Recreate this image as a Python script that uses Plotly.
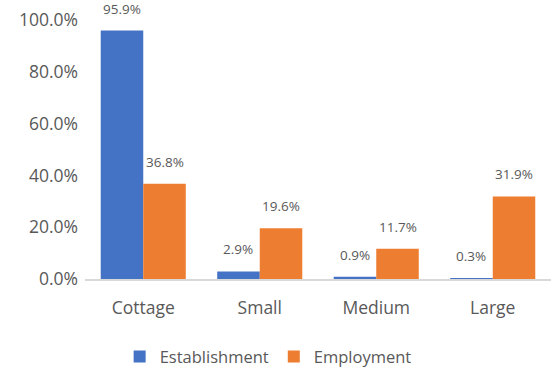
import plotly.graph_objects as go

categories = ["Cottage", "Small", "Medium", "Large"]
establishment = [0.959, 0.029, 0.009, 0.003]
employment = [0.368, 0.196, 0.117, 0.319]
series_names = ["Establishment", "Employment"]
colors = ["#4472C4", "#ED7D31"]
gray = "#595959"
font_family = "Open Sans, Noto Sans, sans-serif"

fig = go.Figure()
for name, vals, col in zip(series_names, [establishment, employment], colors):
    fig.add_trace(go.Bar(name=name, x=categories, y=vals, marker_color=col,
                         marker_line_width=0))

# data labels positioned above bars
annotations = []
for vals, xs in [(establishment, -21.3), (employment, 21.3)]:
    for c, v in zip(categories, vals):
        annotations.append(dict(x=c, y=v, xref="x", yref="y", text=f"{v*100:.1f}%",
                                showarrow=False, xshift=xs, yshift=11, yanchor="bottom",
                                font=dict(size=13.5, color=gray, family=font_family)))

fig.update_layout(
    width=551, height=368,
    margin=dict(l=85, r=0, t=20, b=89, autoexpand=False),
    paper_bgcolor="white", plot_bgcolor="white",
    barmode="group", bargap=0.27, bargroupgap=0,
    font=dict(family=font_family, color=gray),
    annotations=annotations,
    showlegend=True,
    legend=dict(orientation="h", x=0.393, xanchor="center", y=-0.3, yanchor="middle",
                font=dict(size=16.5, color=gray, family=font_family),
                itemwidth=30, tracegroupgap=0),
    xaxis=dict(showline=True, linecolor="#d9d9d9", linewidth=1.5, ticks="",
               automargin=False, ticklabelstandoff=12,
               tickfont=dict(size=17.5, color=gray, family=font_family), showgrid=False),
    yaxis=dict(range=[0, 1], dtick=0.2, tickformat=".1%", showgrid=False, zeroline=False,
               showline=False, ticks="", ticklabelstandoff=6, automargin=False,
               tickfont=dict(size=17.5, color=gray, family=font_family)),
)

fig.write_html("out.html", config={"displayModeBar": False},
               post_script="document.body.style.margin='0';document.body.style.overflow='hidden';")
